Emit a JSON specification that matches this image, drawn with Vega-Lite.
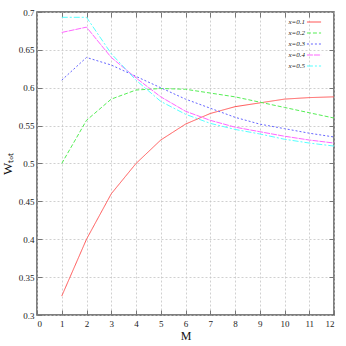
{
  "$schema": "https://vega.github.io/schema/vega-lite/v6.json",
  "width": 297,
  "height": 303,
  "autosize": "none",
  "padding": {"left": 37, "top": 12, "right": 12, "bottom": 31},
  "background": "white",
  "config": {
    "view": {"stroke": "#555555", "strokeWidth": 1.5},
    "axis": {"labelFont": "Liberation Sans Narrow", "labelFontSize": 9, "labelColor": "#222", "titleFont": "Liberation Serif", "titleFontWeight": "normal", "titleColor": "#111", "domain": false, "tickColor": "#777", "gridColor": "#c4c4c4", "gridDash": [2, 2], "gridWidth": 0.8}
  },
  "data": {"values": [
    {"M":1,"w":0.325,"s":"x=0.1"},{"M":2,"w":0.4,"s":"x=0.1"},{"M":3,"w":0.46,"s":"x=0.1"},{"M":4,"w":0.5,"s":"x=0.1"},{"M":5,"w":0.531,"s":"x=0.1"},{"M":6,"w":0.552,"s":"x=0.1"},{"M":7,"w":0.566,"s":"x=0.1"},{"M":8,"w":0.575,"s":"x=0.1"},{"M":9,"w":0.58,"s":"x=0.1"},{"M":10,"w":0.585,"s":"x=0.1"},{"M":11,"w":0.587,"s":"x=0.1"},{"M":12,"w":0.588,"s":"x=0.1"},
    {"M":1,"w":0.5,"s":"x=0.2"},{"M":2,"w":0.557,"s":"x=0.2"},{"M":3,"w":0.585,"s":"x=0.2"},{"M":4,"w":0.597,"s":"x=0.2"},{"M":5,"w":0.599,"s":"x=0.2"},{"M":6,"w":0.598,"s":"x=0.2"},{"M":7,"w":0.593,"s":"x=0.2"},{"M":8,"w":0.588,"s":"x=0.2"},{"M":9,"w":0.581,"s":"x=0.2"},{"M":10,"w":0.574,"s":"x=0.2"},{"M":11,"w":0.567,"s":"x=0.2"},{"M":12,"w":0.56,"s":"x=0.2"},
    {"M":1,"w":0.61,"s":"x=0.3"},{"M":2,"w":0.64,"s":"x=0.3"},{"M":3,"w":0.63,"s":"x=0.3"},{"M":4,"w":0.615,"s":"x=0.3"},{"M":5,"w":0.6,"s":"x=0.3"},{"M":6,"w":0.585,"s":"x=0.3"},{"M":7,"w":0.573,"s":"x=0.3"},{"M":8,"w":0.561,"s":"x=0.3"},{"M":9,"w":0.552,"s":"x=0.3"},{"M":10,"w":0.546,"s":"x=0.3"},{"M":11,"w":0.54,"s":"x=0.3"},{"M":12,"w":0.535,"s":"x=0.3"},
    {"M":1,"w":0.673,"s":"x=0.4"},{"M":2,"w":0.68,"s":"x=0.4"},{"M":3,"w":0.64,"s":"x=0.4"},{"M":4,"w":0.613,"s":"x=0.4"},{"M":5,"w":0.588,"s":"x=0.4"},{"M":6,"w":0.569,"s":"x=0.4"},{"M":7,"w":0.557,"s":"x=0.4"},{"M":8,"w":0.548,"s":"x=0.4"},{"M":9,"w":0.542,"s":"x=0.4"},{"M":10,"w":0.536,"s":"x=0.4"},{"M":11,"w":0.531,"s":"x=0.4"},{"M":12,"w":0.527,"s":"x=0.4"},
    {"M":1,"w":0.693,"s":"x=0.5"},{"M":2,"w":0.693,"s":"x=0.5"},{"M":3,"w":0.645,"s":"x=0.5"},{"M":4,"w":0.61,"s":"x=0.5"},{"M":5,"w":0.582,"s":"x=0.5"},{"M":6,"w":0.565,"s":"x=0.5"},{"M":7,"w":0.553,"s":"x=0.5"},{"M":8,"w":0.545,"s":"x=0.5"},{"M":9,"w":0.539,"s":"x=0.5"},{"M":10,"w":0.532,"s":"x=0.5"},{"M":11,"w":0.527,"s":"x=0.5"},{"M":12,"w":0.523,"s":"x=0.5"}
  ]},
  "layer": [
    {
      "mark": {"type": "line", "strokeWidth": 1},
      "encoding": {
        "x": {"field": "M", "type": "quantitative", "scale": {"domain": [0, 12], "nice": false}, "axis": {"values": [0,1,2,3,4,5,6,7,8,9,10,11,12], "tickSize": -5, "labelPadding": 9, "title": "M", "titleFontSize": 12, "titlePadding": 2}},
        "y": {"field": "w", "type": "quantitative", "scale": {"domain": [0.3, 0.7], "nice": false, "zero": false}, "axis": {"values": [0.3,0.35,0.4,0.45,0.5,0.55,0.6,0.65,0.7], "format": "~g", "tickSize": -5, "labelPadding": 8, "title": "Wₜₒₜ", "titleFontSize": 13, "titlePadding": 4}},
        "color": {"field": "s", "type": "nominal", "scale": {"range": ["#ff5555", "#55ee55", "#6666ff", "#ff66ff", "#55ffff"]},
          "legend": {"title": null, "orient": "none", "legendX": 269, "legendY": 2, "symbolType": "stroke", "symbolSize": 200, "symbolStrokeWidth": 1.2, "labelFont": "Liberation Serif", "labelFontStyle": "italic", "labelFontSize": 7, "labelAlign": "right", "labelOffset": -17, "rowPadding": -3, "labelColor": "#222"}},
        "strokeDash": {"field": "s", "type": "nominal", "scale": {"range": [[1,0],[4,2],[2,2],[6,1],[6,2,2,2]]},
          "legend": {"title": null, "orient": "none", "legendX": 269, "legendY": 2, "symbolType": "stroke", "symbolSize": 200, "symbolStrokeWidth": 1.2, "labelFont": "Liberation Serif", "labelFontStyle": "italic", "labelFontSize": 7, "labelAlign": "right", "labelOffset": -17, "rowPadding": -3, "labelColor": "#222"}}
      }
    },
    {
      "mark": {"type": "line", "opacity": 0},
      "encoding": {
        "x": {"field": "M", "type": "quantitative", "axis": {"orient": "top", "values": [1,2,3,4,5,6,7,8,9,10,11], "tickSize": -5, "labels": false, "grid": false, "title": null}},
        "y": {"field": "w", "type": "quantitative", "axis": {"orient": "right", "values": [0.35,0.4,0.45,0.5,0.55,0.6,0.65], "tickSize": -5, "labels": false, "grid": false, "title": null}},
        "detail": {"field": "s"}
      }
    }
  ],
  "resolve": {"axis": {"x": "independent", "y": "independent"}}
}
